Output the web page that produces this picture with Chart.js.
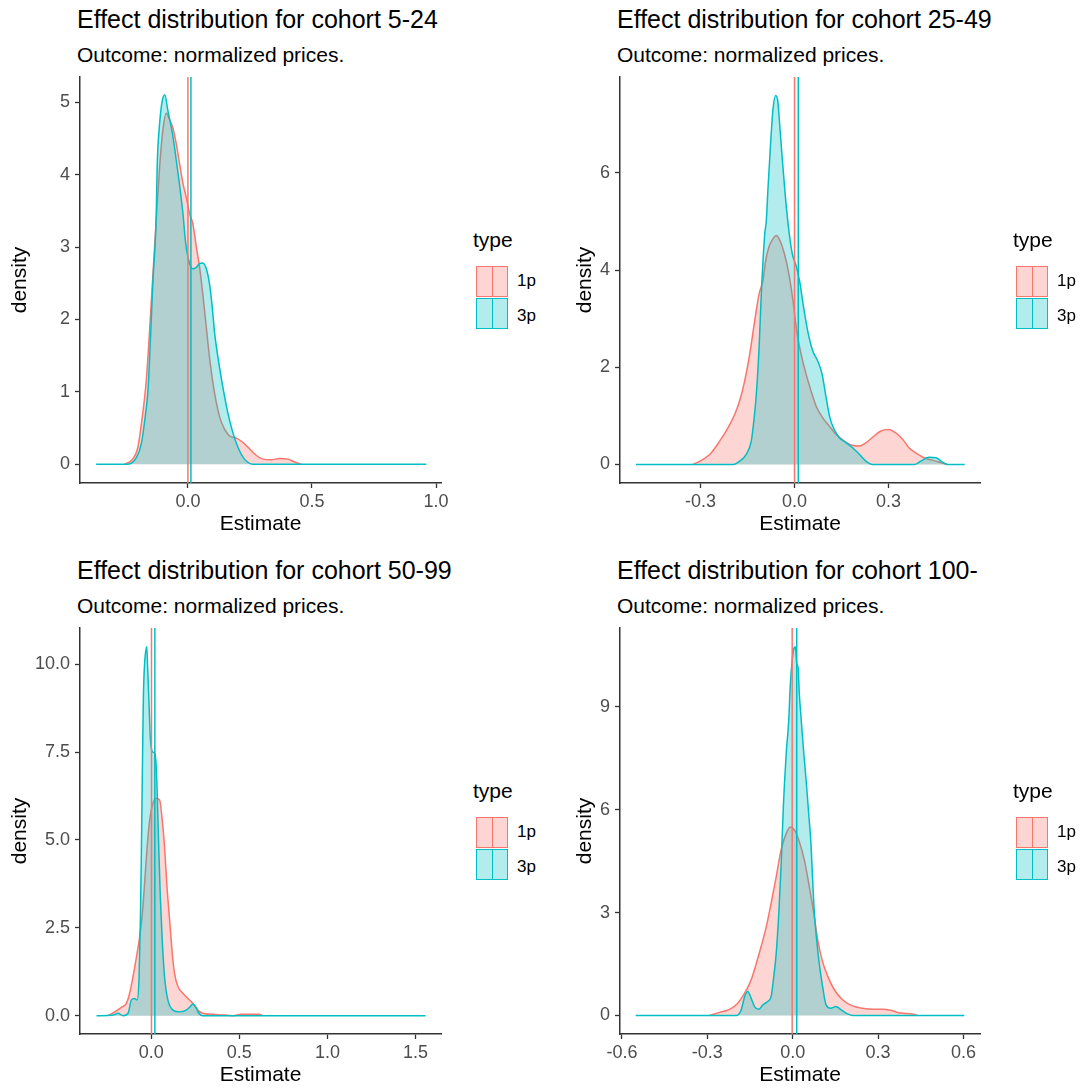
<!DOCTYPE html>
<html>
<head>
<meta charset="utf-8">
<script src="https://cdn.jsdelivr.net/npm/chart.js@4.4.1/dist/chart.umd.min.js"></script>
<style>
html, body { margin: 0; padding: 0; background: #fff; overflow: hidden; width: 1083px; height: 1092px; }
body { position: relative; font-family: "Liberation Sans", Arial, sans-serif; color: #000; }
.panel { position: absolute; width: 541px; height: 546px; }
.panel canvas { position: absolute; top: 0; }
.ttl { position: absolute; left: 77px; top: 7px; font-size: 25px; line-height: 25px; white-space: nowrap; }
.sub { position: absolute; left: 77px; top: 44px; font-size: 21px; line-height: 21px; white-space: nowrap; }
.lgt { position: absolute; left: 473px; top: 229px; font-size: 21px; line-height: 21px; }
.key { position: absolute; left: 476px; width: 32px; height: 31px; box-sizing: border-box; border: 1.5px solid; }
.key i { position: absolute; left: 14.5px; top: 0; width: 1.3px; height: 100%; }
.lab { position: absolute; left: 517px; font-size: 17px; line-height: 17px; }
</style>
</head>
<body>
<script>
// cohorts and titles
var cohorts = ['5-24', '25-49', '50-99', '100-'];
var subtitle = 'Outcome: normalized prices.';
var types = ['1p', '3p'];

// density of 1p / 3p estimates
var x1p_524 = [-0.255,-0.228,-0.202,-0.184,-0.168,-0.157,-0.144,-0.128,-0.114,-0.101,-0.087,-0.074,-0.060,-0.047,-0.034,-0.020,-0.007,0.007,0.020,0.034,0.047,0.060,0.074,0.090,0.108,0.128,0.148,0.168,0.195,0.222,0.249,0.276,0.302,0.336,0.370,0.403,0.430,0.457];
var y1p_524 = [0,0.05,0.23,0.65,1.15,1.71,2.45,3.37,4.11,4.62,4.85,4.76,4.64,4.43,4.16,3.88,3.69,3.46,3.32,3.00,2.72,2.35,1.89,1.39,0.97,0.65,0.48,0.39,0.36,0.30,0.21,0.12,0.07,0.06,0.08,0.07,0.03,0];
var x3p_524 = [-0.37,-0.242,-0.208,-0.188,-0.171,-0.161,-0.152,-0.141,-0.128,-0.124,-0.114,-0.103,-0.093,-0.081,-0.060,-0.047,-0.036,-0.020,-0.009,0.007,0.020,0.034,0.047,0.060,0.074,0.087,0.098,0.108,0.125,0.141,0.159,0.179,0.202,0.228,0.262,0.961];
var y3p_524 = [0,0,0.09,0.28,0.69,1.02,1.66,2.54,3.40,4.11,4.71,5.03,5.10,4.89,4.52,4.20,3.92,3.46,3.05,2.77,2.70,2.72,2.77,2.78,2.70,2.49,2.17,1.80,1.39,1.06,0.74,0.46,0.23,0.07,0,0];

var x1p_2549 = [-0.325,-0.302,-0.270,-0.239,-0.212,-0.191,-0.175,-0.159,-0.143,-0.127,-0.113,-0.101,-0.093,-0.082,-0.069,-0.058,-0.046,-0.032,-0.018,-0.005,0.007,0.021,0.037,0.053,0.069,0.090,0.111,0.133,0.159,0.186,0.207,0.228,0.249,0.276,0.300,0.323,0.345,0.366,0.387,0.413,0.440,0.461,0.488];
var y1p_2549 = [0,0.07,0.21,0.48,0.76,1.03,1.31,1.72,2.27,2.96,3.51,3.78,4.16,4.47,4.64,4.71,4.60,4.33,3.92,3.37,2.75,2.27,1.86,1.51,1.20,0.96,0.79,0.62,0.48,0.39,0.38,0.45,0.56,0.69,0.72,0.65,0.52,0.34,0.24,0.14,0.09,0.05,0];
var x3p_2549 = [-0.506,-0.196,-0.175,-0.154,-0.138,-0.130,-0.122,-0.113,-0.106,-0.095,-0.090,-0.085,-0.077,-0.069,-0.060,-0.053,-0.046,-0.037,-0.029,-0.018,-0.007,0.005,0.016,0.029,0.042,0.058,0.074,0.088,0.101,0.113,0.127,0.143,0.164,0.186,0.207,0.228,0.249,0.382,0.403,0.429,0.451,0.472,0.488,0.543];
var y3p_2549 = [0,0,0.07,0.21,0.48,0.89,1.44,2.41,3.51,4.74,5.02,5.64,6.53,7.29,7.59,7.46,6.87,6.12,5.50,4.81,4.33,4.09,3.78,3.23,2.75,2.34,2.13,1.86,1.37,0.96,0.72,0.55,0.45,0.34,0.21,0.07,0,0,0.07,0.15,0.14,0.05,0,0];

var x1p_5099 = [-0.245,-0.208,-0.170,-0.142,-0.123,-0.104,-0.081,-0.066,-0.051,-0.038,-0.025,-0.009,0.009,0.028,0.047,0.062,0.075,0.089,0.104,0.119,0.132,0.151,0.179,0.208,0.236,0.264,0.292,0.349,0.415,0.462,0.509,0.613,0.632];
var y1p_5099 = [0,0.11,0.24,0.35,0.64,1.11,1.77,2.25,2.91,3.77,4.72,5.57,6.04,6.19,6.14,5.57,4.81,3.67,2.72,1.77,1.20,0.83,0.64,0.49,0.35,0.16,0.07,0.04,0.02,0,0.04,0.04,0];
var x3p_5099 = [-0.311,-0.217,-0.189,-0.160,-0.132,-0.113,-0.094,-0.081,-0.070,-0.062,-0.057,-0.051,-0.045,-0.038,-0.032,-0.026,-0.021,-0.013,-0.006,0.006,0.019,0.028,0.034,0.042,0.051,0.062,0.075,0.094,0.123,0.160,0.198,0.221,0.236,0.251,0.270,0.292,1.557];
var y3p_5099 = [0,0.02,0.07,0,0.07,0.45,0.49,0.45,1.02,2.72,4.43,6.90,9.08,10.03,10.36,10.50,9.93,8.89,7.94,7.51,7.47,7.09,6.23,4.81,3.39,2.15,1.11,0.45,0.16,0.11,0.16,0.26,0.33,0.26,0.07,0,0];

var x1p_100 = [-0.292,-0.257,-0.222,-0.193,-0.169,-0.146,-0.128,-0.111,-0.093,-0.076,-0.058,-0.041,-0.023,-0.009,0.006,0.023,0.041,0.058,0.074,0.088,0.103,0.123,0.146,0.175,0.210,0.245,0.280,0.315,0.344,0.379,0.420,0.438];
var y1p_100 = [0,0.09,0.18,0.36,0.65,1.04,1.52,2.01,2.59,3.27,4.05,4.83,5.31,5.50,5.41,5.07,4.53,3.76,2.98,2.20,1.62,1.14,0.75,0.46,0.28,0.21,0.18,0.18,0.15,0.07,0.04,0];
var x3p_100 = [-0.552,-0.198,-0.181,-0.169,-0.158,-0.146,-0.134,-0.119,-0.105,-0.088,-0.076,-0.068,-0.058,-0.049,-0.041,-0.033,-0.023,-0.014,-0.009,-0.002,0.004,0.009,0.014,0.019,0.023,0.029,0.037,0.047,0.056,0.064,0.070,0.076,0.084,0.093,0.105,0.117,0.134,0.152,0.169,0.187,0.210,0.603];
var y3p_100 = [0,0,0.17,0.55,0.70,0.50,0.26,0.18,0.31,0.41,0.55,1.04,1.82,2.98,4.34,6.09,7.64,8.61,9.58,10.36,10.70,10.75,10.26,10.12,9.39,8.71,7.83,6.86,5.89,5.02,3.95,2.98,2.20,1.52,0.84,0.31,0.21,0.26,0.17,0.07,0,0];

// mean estimate per cohort (vertical lines)
var mean1p = [0.0, 0.0, 0.001, -0.002];
var mean3p = [0.012, 0.012, 0.02, 0.014];

// tick values and labels
var xTickVals = [[0, 0.5, 1], [-0.3, 0, 0.3], [0, 0.5, 1, 1.5], [-0.6, -0.3, 0, 0.3, 0.6]];
var xTickLabels = [['0.0','0.5','1.0'], ['-0.3','0.0','0.3'], ['0.0','0.5','1.0','1.5'], ['-0.6','-0.3','0.0','0.3','0.6']];
var yTickVals = [[0,1,2,3,4,5], [0,2,4,6], [0,2.5,5,7.5,10], [0,3,6,9]];
var yTickLabels = [['0','1','2','3','4','5'], ['0','2','4','6'], ['0.0','2.5','5.0','7.5','10.0'], ['0','3','6','9']];

var xs1p = [x1p_524, x1p_2549, x1p_5099, x1p_100];
var ys1p = [y1p_524, y1p_2549, y1p_5099, y1p_100];
var xs3p = [x3p_524, x3p_2549, x3p_5099, x3p_100];
var ys3p = [y3p_524, y3p_2549, y3p_5099, y3p_100];

// axis limits (ggplot 5% expansion)
var xLim = [[-0.435, 1.02], [-0.557, 0.592], [-0.405, 1.645], [-0.607, 0.658]];
var yLim = [[-0.26, 5.35], [-0.38, 7.97], [-0.52, 11.03], [-0.54, 11.3]];

var RED = '#F8766D', TEAL = '#00BFC4';
var RED_FILL = 'rgba(248,118,109,0.3)', TEAL_FILL = 'rgba(0,191,196,0.3)';
var FONT = '"Liberation Sans", Arial, sans-serif';

function pts(xv, yv) {
    return xv.map(function (x, k) { return { x: x, y: yv[k] }; });
}

function drawPanel(i) {
    var right = i % 2 === 1;
    var panel = document.createElement('div');
    panel.className = 'panel';
    panel.style.left = (right ? 540 : 0) + 'px';
    panel.style.top = (i > 1 ? 551 : 0) + 'px';
    panel.innerHTML =
        '<div class="ttl">Effect distribution for cohort ' + cohorts[i] + '</div>' +
        '<div class="sub">' + subtitle + '</div>' +
        '<canvas width="460" height="546" style="left:' + (right ? 25 : 0) + 'px"></canvas>' +
        '<div class="lgt">type</div>' +
        '<div class="key" style="top:266px;border-color:' + RED + ';background:' + RED_FILL + '"><i style="background:' + RED + '"></i></div>' +
        '<div class="key" style="top:298px;border-color:' + TEAL + ';background:' + TEAL_FILL + '"><i style="background:' + TEAL + '"></i></div>' +
        '<div class="lab" style="top:272px">' + types[0] + '</div>' +
        '<div class="lab" style="top:307px">' + types[1] + '</div>';
    document.body.appendChild(panel);

    var ctx = panel.querySelector('canvas').getContext('2d');
    var y0 = yLim[i][0], y1 = yLim[i][1];

    new Chart(ctx, {
        type: 'line',
        data: {
            datasets: [
                { label: '1p', data: pts(xs1p[i], ys1p[i]), borderColor: RED, backgroundColor: RED_FILL, fill: 'origin', order: 4 },
                { label: '3p', data: pts(xs3p[i], ys3p[i]), borderColor: TEAL, backgroundColor: TEAL_FILL, fill: 'origin', order: 3 },
                { label: 'mean 1p', data: [{ x: mean1p[i], y: y0 }, { x: mean1p[i], y: y1 }], borderColor: RED, fill: false, order: 2 },
                { label: 'mean 3p', data: [{ x: mean3p[i], y: y0 }, { x: mean3p[i], y: y1 }], borderColor: TEAL, fill: false, order: 1 }
            ]
        },
        options: {
            responsive: false,
            animation: false,
            devicePixelRatio: 1,
            layout: { padding: { left: 8, top: 77, right: right ? 45 : 19, bottom: 0 } },
            plugins: { legend: { display: false }, tooltip: { enabled: false } },
            elements: {
                point: { radius: 0 },
                line: { borderWidth: 1.5, tension: 0.2, cubicInterpolationMode: 'monotone' }
            },
            scales: {
                x: {
                    type: 'linear',
                    min: xLim[i][0],
                    max: xLim[i][1],
                    afterBuildTicks: function (s) { s.ticks = xTickVals[i].map(function (v) { return { value: v }; }); },
                    afterFit: function (s) { s.height = 63; },
                    ticks: {
                        autoSkip: false, maxRotation: 0, padding: 3, color: '#4D4D4D',
                        font: { family: FONT, size: 18 },
                        callback: function (v, k) { return xTickLabels[i][k]; }
                    },
                    grid: { drawOnChartArea: false, tickLength: 5, color: '#333', tickWidth: 1.3 },
                    border: { display: true, color: '#333', width: 1.5 },
                    title: { display: true, text: 'Estimate', color: '#000', font: { family: FONT, size: 21 }, padding: { top: 0, bottom: 9 } }
                },
                y: {
                    min: y0,
                    max: y1,
                    afterBuildTicks: function (s) { s.ticks = yTickVals[i].map(function (v) { return { value: v }; }); },
                    afterFit: function (s) { s.width = right ? 47 : 72; },
                    ticks: {
                        autoSkip: false, padding: 5, color: '#4D4D4D',
                        font: { family: FONT, size: 18 },
                        callback: function (v, k) { return yTickLabels[i][k]; }
                    },
                    grid: { drawOnChartArea: false, tickLength: 5, color: '#333', tickWidth: 1.3 },
                    border: { display: true, color: '#333', width: 1.5 },
                    title: { display: true, text: 'density', color: '#000', font: { family: FONT, size: 21 }, padding: { top: 0, bottom: 0 } }
                }
            }
        }
    });
}

for (var i = 0; i < 4; i++) drawPanel(i);
</script>
</body>
</html>
